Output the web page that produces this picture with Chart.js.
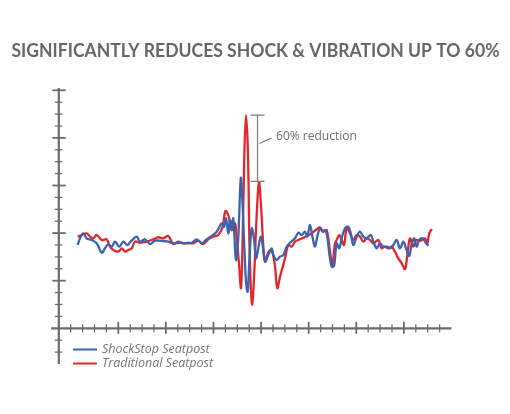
<!DOCTYPE html>
<html><head><meta charset="utf-8">
<script src="https://cdn.jsdelivr.net/npm/chart.js@4"></script>
<style>html,body{margin:0;padding:0;background:#fff}#wrap{width:510px;height:414px}</style>
</head><body><div id="wrap"><canvas id="c" width="510" height="414"></canvas></div>
<script>
const title = "SIGNIFICANTLY REDUCES SHOCK & VIBRATION UP TO 60%";
const seriesLabels = ["ShockStop Seatpost", "Traditional Seatpost"];
const annotationText = "60% reduction";

const shockX = [1.59,1.78,2.06,2.34,2.76,3.18,3.61,3.88,4.16,4.45,4.72,5.08,5.42,5.76,6.04,6.55,6.82,7.24,7.66,8.08,8.65,9.20,9.62,10.18,10.75,11.17,11.59,12.01,12.43,12.85,13.27,13.69,13.88,14.05,14.24,14.39,14.53,14.66,14.89,15.08,15.29,15.42,15.56,15.73,15.87,16.01,16.21,16.40,16.57,16.76,16.97,17.13,17.33,17.61,17.89,18.03,18.31,18.59,18.87,19.15,19.43,19.85,20.13,20.41,20.69,20.88,21.11,21.34,21.53,21.72,21.95,22.18,22.37,22.56,22.73,22.93,23.13,23.35,23.57,23.77,24.05,24.33,24.53,24.75,25.03,25.31,25.59,25.87,26.21,26.49,26.71,26.99,27.27,27.61,27.83,28.11,28.39,28.67,28.95,29.18,29.45,29.66,29.87,30.07,30.29,30.58,30.86,31.08];
const shockY = [7.0,7.56,7.98,7.56,7.42,7.14,6.35,6.72,7.08,6.86,7.28,6.86,7.28,7.0,7.28,7.70,7.28,7.48,7.08,7.36,7.34,7.28,7.14,7.19,7.14,7.19,7.48,7.14,7.48,7.76,8.12,8.82,8.51,9.24,7.98,9.10,8.26,9.24,5.74,7.56,12.61,10.92,7.56,3.92,3.08,5.60,8.40,7.56,5.88,6.72,7.70,7.0,5.60,6.16,6.72,6.16,5.74,6.02,6.16,6.86,7.19,7.56,8.03,7.84,8.12,7.70,8.68,7.56,6.86,7.70,8.40,8.12,8.26,7.70,6.30,5.18,5.24,7.14,6.72,7.56,8.40,8.54,7.98,7.0,7.70,8.12,7.70,7.56,7.84,7.14,6.72,7.14,6.86,6.86,6.72,7.0,7.42,6.72,7.28,6.72,6.08,7.14,7.56,6.86,7.42,7.56,7.14,6.94];

const tradX = [1.59,1.92,2.34,2.62,2.90,3.18,3.61,4.03,4.30,4.58,5.0,5.29,5.56,5.84,6.13,6.40,6.82,7.39,7.94,8.36,8.78,9.20,9.62,10.04,10.46,10.88,11.30,11.72,12.14,12.56,12.98,13.40,13.77,14.0,14.24,14.53,14.81,14.95,15.14,15.31,15.45,15.59,15.73,15.90,16.01,16.15,16.26,16.43,16.63,16.82,16.99,17.18,17.33,17.52,17.75,17.97,18.17,18.36,18.59,18.82,19.01,19.29,19.57,19.85,20.27,20.83,21.25,21.67,21.95,22.23,22.51,22.79,22.98,23.21,23.35,23.57,23.77,23.97,24.19,24.47,24.75,25.03,25.31,25.59,25.87,26.15,26.43,26.85,27.13,27.41,27.69,27.97,28.25,28.53,28.82,29.09,29.29,29.51,29.79,30.01,30.35,30.77,30.97,31.13,31.34];
const tradY = [7.70,7.84,7.98,7.70,7.56,7.84,7.42,7.48,6.86,6.58,6.44,6.72,6.44,6.58,6.72,7.28,7.19,7.28,7.48,7.65,7.56,7.76,7.08,7.28,7.14,7.19,7.14,7.36,7.08,7.48,7.70,7.84,8.54,9.86,9.52,8.26,8.82,7.56,5.46,3.39,7.56,14.56,17.92,14.56,7.56,3.08,2.02,4.76,9.52,12.29,10.36,7.0,5.60,6.16,6.58,6.30,5.18,3.36,4.34,5.18,5.88,7.0,6.86,7.28,7.48,7.76,7.98,8.32,8.49,8.12,8.26,6.44,5.32,7.14,7.42,7.84,7.42,7.0,8.40,7.98,7.42,7.84,7.70,7.28,7.56,7.42,7.14,7.42,6.72,6.86,6.72,6.86,6.44,5.88,5.46,4.98,6.16,7.56,6.86,7.42,7.34,7.56,7.14,7.98,8.34];

const xMajorTicks = [5,9,13,17,21,25,29];
const yMajorTicks = [4,8,12,16,20];
const bracketX = 16.70;
const bracketLow = 12.35;

const toPts = (xs, ys) => xs.map((x, i) => ({x, y: ys[i]}));
const AXIS = '#6b6b6b';

const deco = {
  id: 'deco',
  beforeDatasetsDraw(chart) {
    const ctx = chart.ctx, xs = chart.scales.x, ys = chart.scales.y;
    const x0 = xs.getPixelForValue(0), y0 = ys.getPixelForValue(0);
    ctx.save();
    ctx.strokeStyle = AXIS; ctx.lineCap = 'butt';
    ctx.lineWidth = 1.3;
    for (let i = 1; i <= 32; i++) {
      if (xMajorTicks.includes(i)) continue;
      const p = xs.getPixelForValue(i);
      ctx.beginPath(); ctx.moveTo(p, y0 - 4); ctx.lineTo(p, y0 + 4); ctx.stroke();
    }
    for (let j = -2; j <= 19; j++) {
      if (j === 0 || yMajorTicks.includes(j)) continue;
      const p = ys.getPixelForValue(j);
      ctx.beginPath(); ctx.moveTo(x0 - 4, p); ctx.lineTo(x0 + 3.5, p); ctx.stroke();
    }
    ctx.lineWidth = 1.8;
    xMajorTicks.forEach(i => {
      const p = xs.getPixelForValue(i);
      ctx.beginPath(); ctx.moveTo(p, y0 - 6.5); ctx.lineTo(p, y0 + 5.5); ctx.stroke();
    });
    yMajorTicks.forEach(j => {
      const p = ys.getPixelForValue(j);
      ctx.beginPath(); ctx.moveTo(x0 - 6.5, p); ctx.lineTo(x0 + 7, p); ctx.stroke();
    });
    ctx.lineWidth = 2.2;
    ctx.beginPath(); ctx.moveTo(x0, ys.getPixelForValue(20.2)); ctx.lineTo(x0, ys.getPixelForValue(-3)); ctx.stroke();
    ctx.beginPath(); ctx.moveTo(xs.getPixelForValue(-0.65), y0); ctx.lineTo(xs.getPixelForValue(33), y0); ctx.stroke();
    ctx.restore();
  },
  afterDraw(chart) {
    const ctx = chart.ctx, xs = chart.scales.x, ys = chart.scales.y;
    ctx.save();
    // title: keep the cap height, squeeze horizontally to the reference width
    ctx.fillStyle = '#676767';
    ctx.font = 'bold 18px Lato';
    const w = ctx.measureText(title).width;
    const sx = 488 / w;
    ctx.save();
    ctx.translate(255.5, 57);
    ctx.scale(sx, 1);
    ctx.textAlign = 'center'; ctx.textBaseline = 'alphabetic';
    ctx.fillText(title, 0, 0);
    ctx.restore();
    // bracket
    const bx = xs.getPixelForValue(bracketX);
    const top = ys.getPixelForValue(Math.max(...tradY));
    const bot = ys.getPixelForValue(bracketLow);
    ctx.strokeStyle = '#7a7a7a'; ctx.lineWidth = 1.2;
    ctx.beginPath();
    ctx.moveTo(bx, top); ctx.lineTo(bx, bot);
    ctx.moveTo(bx - 7, top); ctx.lineTo(bx + 7, top);
    ctx.moveTo(bx - 7, bot); ctx.lineTo(bx + 7, bot);
    ctx.moveTo(bx + 2, 143.5); ctx.lineTo(bx + 14, 138);
    ctx.stroke();
    ctx.fillStyle = '#6f6f6f';
    ctx.font = '12px "Open Sans"';
    ctx.textAlign = 'left'; ctx.textBaseline = 'middle';
    ctx.fillText(annotationText, bx + 18.5, 137);
    // legend
    chart.data.datasets.forEach((d, i) => {
      const y = 349.5 + i * 14;
      ctx.strokeStyle = d.borderColor; ctx.lineWidth = 2;
      ctx.beginPath(); ctx.moveTo(73, y); ctx.lineTo(97, y); ctx.stroke();
      ctx.fillStyle = '#757575';
      ctx.font = 'italic 12.5px "Open Sans"';
      ctx.textBaseline = 'middle';
      ctx.fillText(d.label, 102, y);
    });
    ctx.restore();
  }
};

new Chart(document.getElementById('c'), {
  type: 'line',
  data: {
    datasets: [
      { label: seriesLabels[0], data: toPts(shockX, shockY), borderColor: '#3d62ae', borderWidth: 2.3, pointRadius: 0, tension: 0.35, fill: false },
      { label: seriesLabels[1], data: toPts(tradX, tradY), borderColor: '#e4262c', borderWidth: 2.3, pointRadius: 0, tension: 0.35, fill: false }
    ]
  },
  options: {
    responsive: false, animation: false,
    layout: { padding: { left: 58.8, right: 58.5, top: 90.3, bottom: 50 } },
    scales: {
      x: { type: 'linear', min: 0, max: 33, display: false },
      y: { type: 'linear', min: -3, max: 20, display: false }
    },
    plugins: { legend: { display: false }, tooltip: { enabled: false }, title: { display: false } },
    elements: { line: { borderJoinStyle: 'round', capBezierPoints: true } }
  },
  plugins: [deco]
});
</script>
</body></html>
